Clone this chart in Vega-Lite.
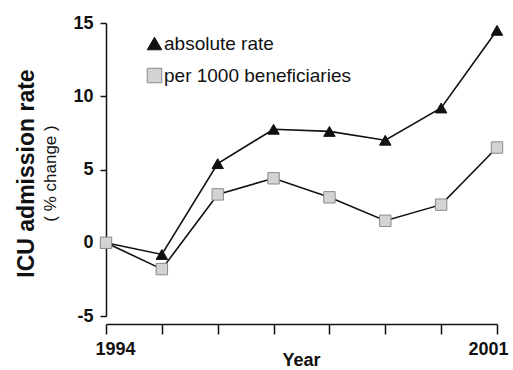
{
  "$schema": "https://vega.github.io/schema/vega-lite/v6.json",
  "width": 391,
  "height": 293,
  "autosize": "none",
  "padding": {"left": 106, "top": 23, "right": 16, "bottom": 54},
  "background": "white",
  "title": {
    "text": "ICU admission rate",
    "subtitle": "( % change )",
    "orient": "left",
    "anchor": "middle",
    "frame": "group",
    "fontSize": 23,
    "fontWeight": "bold",
    "color": "#111",
    "subtitleFontSize": 17,
    "subtitleFontWeight": "normal",
    "subtitleColor": "#111",
    "subtitlePadding": 4,
    "offset": 14,
    "dx": -4
  },
  "config": {
    "view": {"stroke": null},
    "font": "Liberation Sans",
    "axis": {"grid": false, "domainColor": "#111", "tickColor": "#111", "labelColor": "#111", "titleColor": "#111", "domainWidth": 1.5, "tickWidth": 1.5}
  },
  "data": {
    "values": [
      {"year": 1994, "series": "absolute rate", "value": 0},
      {"year": 1995, "series": "absolute rate", "value": -0.8},
      {"year": 1996, "series": "absolute rate", "value": 5.4},
      {"year": 1997, "series": "absolute rate", "value": 7.75},
      {"year": 1998, "series": "absolute rate", "value": 7.6},
      {"year": 1999, "series": "absolute rate", "value": 7.0},
      {"year": 2000, "series": "absolute rate", "value": 9.2},
      {"year": 2001, "series": "absolute rate", "value": 14.5},
      {"year": 1994, "series": "per 1000 beneficiaries", "value": 0},
      {"year": 1995, "series": "per 1000 beneficiaries", "value": -1.8},
      {"year": 1996, "series": "per 1000 beneficiaries", "value": 3.3},
      {"year": 1997, "series": "per 1000 beneficiaries", "value": 4.4},
      {"year": 1998, "series": "per 1000 beneficiaries", "value": 3.1},
      {"year": 1999, "series": "per 1000 beneficiaries", "value": 1.5},
      {"year": 2000, "series": "per 1000 beneficiaries", "value": 2.6},
      {"year": 2001, "series": "per 1000 beneficiaries", "value": 6.5}
    ]
  },
  "encoding": {
    "x": {
      "field": "year", "type": "quantitative",
      "scale": {"domain": [1994, 2001], "nice": false, "zero": false},
      "axis": {
        "values": [1994, 1995, 1996, 1997, 1998, 1999, 2000, 2001],
        "format": "d",
        "labelExpr": "datum.value == 1994 || datum.value == 2001 ? datum.label : ''",
        "offset": 8, "tickSize": 10, "labelPadding": 6,
        "labelFontSize": 18, "labelFontWeight": "bold",
        "labelFlush": true, "labelFlushOffset": 11,
        "title": "Year", "titleFontSize": 18, "titleFontWeight": "bold",
        "titleX": 195, "titleY": 27, "titleBaseline": "top", "titleAlign": "center"
      }
    },
    "y": {
      "field": "value", "type": "quantitative",
      "scale": {"domain": [-5, 15], "nice": false, "zero": false},
      "axis": {
        "values": [-5, 0, 5, 10, 15],
        "labelExpr": "replace(datum.label, '\u2212', '-')",
        "tickSize": 6, "labelPadding": 7,
        "labelFontSize": 18, "labelFontWeight": "bold",
        "title": null
      }
    }
  },
  "layer": [
    {
      "mark": {"type": "line", "color": "#111", "strokeWidth": 1.6},
      "encoding": {"detail": {"field": "series"}}
    },
    {
      "mark": {"type": "point", "filled": true, "opacity": 1, "strokeWidth": 1},
      "encoding": {
        "shape": {"field": "series", "type": "nominal",
          "scale": {"domain": ["absolute rate", "per 1000 beneficiaries"], "range": ["triangle-up", "square"]},
          "legend": {"orient": "none", "legendX": 39, "legendY": 11, "title": null, "labelFontSize": 19, "labelColor": "#111", "labelLimit": 0, "symbolSize": 210, "symbolStrokeWidth": 1, "rowPadding": 12, "labelOffset": 0, "padding": 0}},
        "fill": {"field": "series", "type": "nominal",
          "scale": {"domain": ["absolute rate", "per 1000 beneficiaries"], "range": ["#111111", "#d3d3d3"]},
          "legend": {"orient": "none", "legendX": 39, "legendY": 11, "title": null, "labelFontSize": 19, "labelColor": "#111", "labelLimit": 0, "symbolSize": 210, "symbolStrokeWidth": 1, "rowPadding": 12, "labelOffset": 0, "padding": 0}},
        "stroke": {"field": "series", "type": "nominal",
          "scale": {"domain": ["absolute rate", "per 1000 beneficiaries"], "range": ["#111111", "#8a8a8a"]},
          "legend": {"orient": "none", "legendX": 39, "legendY": 11, "title": null, "labelFontSize": 19, "labelColor": "#111", "labelLimit": 0, "symbolSize": 210, "symbolStrokeWidth": 1, "rowPadding": 12, "labelOffset": 0, "padding": 0}},
        "size": {"value": 130}
      }
    }
  ]
}
